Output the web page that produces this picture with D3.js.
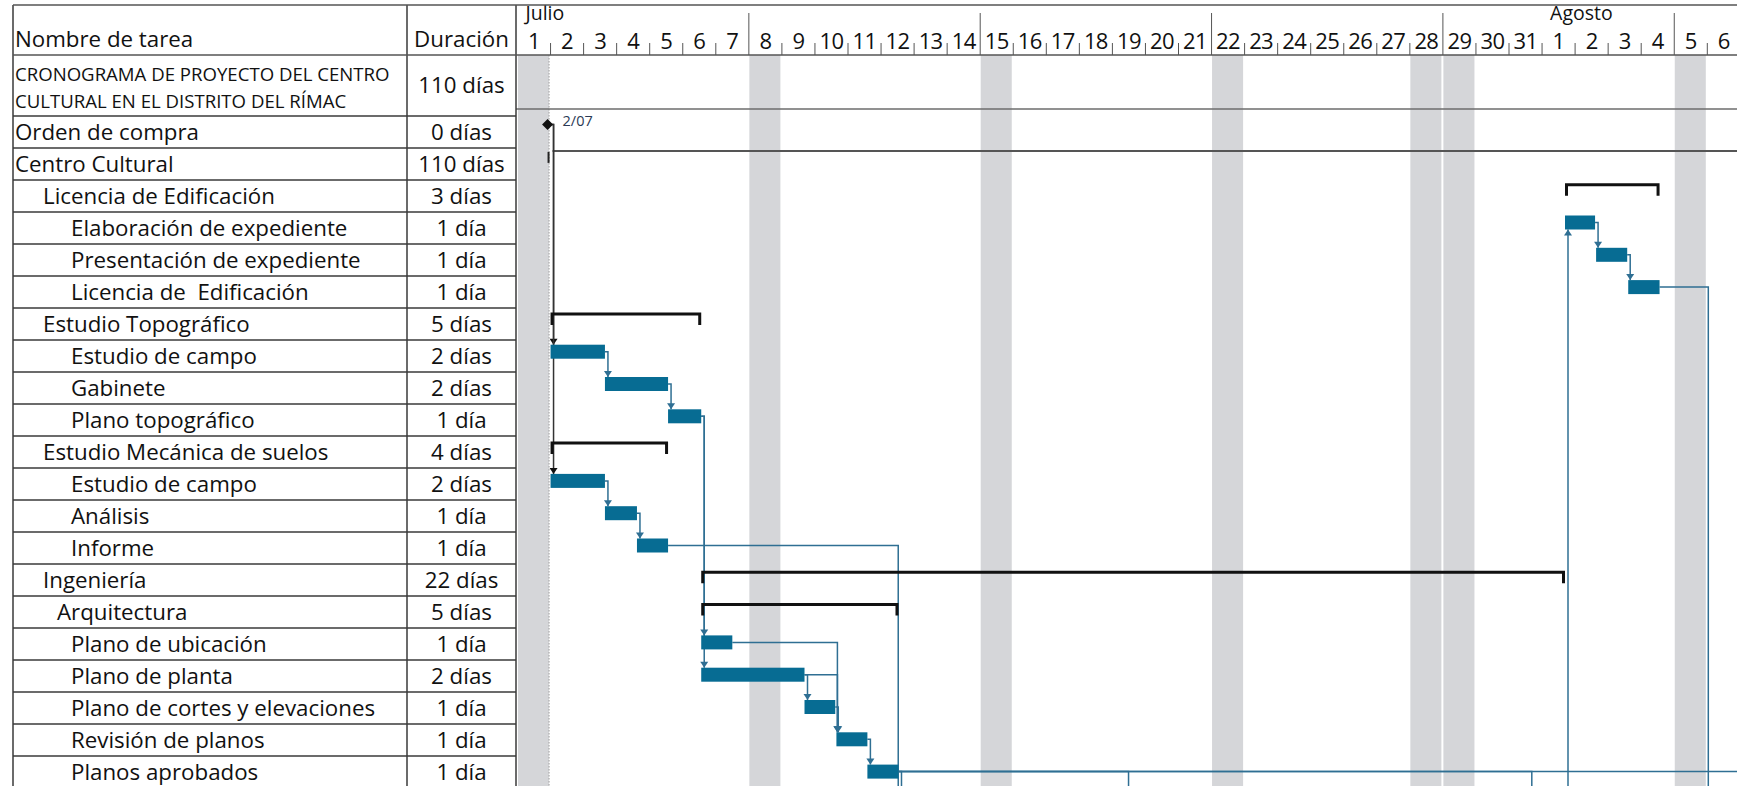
<!DOCTYPE html>
<html>
<head>
<meta charset="utf-8">
<title>Cronograma Centro Cultural</title>
<script src="https://cdn.jsdelivr.net/npm/d3@7"></script>
<style>
body { margin: 0; background: #fff; }
svg { display: block; font-family: "Open Sans", sans-serif; }
text { white-space: pre; fill: #111; }
</style>
</head>
<body>
<svg id="chart"></svg>
<script>
var taskNames = [
  "CRONOGRAMA DE PROYECTO DEL CENTRO|CULTURAL EN EL DISTRITO DEL RÍMAC",
  "Orden de compra", "Centro Cultural", "Licencia de Edificación",
  "Elaboración de expediente", "Presentación de expediente", "Licencia de  Edificación",
  "Estudio Topográfico", "Estudio de campo", "Gabinete", "Plano topográfico",
  "Estudio Mecánica de suelos", "Estudio de campo", "Análisis", "Informe",
  "Ingeniería", "Arquitectura", "Plano de ubicación", "Plano de planta",
  "Plano de cortes y elevaciones", "Revisión de planos", "Planos aprobados"
];
var durations = ["110 días", "0 días", "110 días", "3 días", "1 día", "1 día", "1 día",
  "5 días", "2 días", "2 días", "1 día", "4 días", "2 días", "1 día", "1 día",
  "22 días", "5 días", "1 día", "2 días", "1 día", "1 día", "1 día"];
var levels = [0, 0, 0, 1, 2, 2, 2, 1, 2, 2, 2, 1, 2, 2, 2, 1, 1.5, 2, 2, 2, 2, 2];
var kinds = ["project", "milestone", "rollup", "summary", "task", "task", "task",
  "summary", "task", "task", "task", "summary", "task", "task", "task",
  "summary", "summary", "task", "task", "task", "task", "task"];
var starts = ["2018-07-01 00:00", "2018-07-02 00:00", "2018-07-02 00:00", "2018-08-01 16:40",
  "2018-08-01 16:40", "2018-08-02 15:15", "2018-08-03 14:35",
  "2018-07-02 00:00", "2018-07-02 00:00", "2018-07-03 15:30", "2018-07-05 13:20",
  "2018-07-02 00:00", "2018-07-02 00:00", "2018-07-03 15:30", "2018-07-04 14:45",
  "2018-07-06 13:25", "2018-07-06 13:25", "2018-07-06 13:25", "2018-07-06 13:25",
  "2018-07-09 16:25", "2018-07-10 15:35", "2018-07-11 14:05"];
var ends = ["2018-11-07 17:00", "2018-07-02 00:00", "2018-11-07 17:00", "2018-08-04 13:20",
  "2018-08-02 14:30", "2018-08-03 13:50", "2018-08-04 13:20",
  "2018-07-06 13:25", "2018-07-03 15:30", "2018-07-05 13:20", "2018-07-06 13:25",
  "2018-07-05 13:20", "2018-07-03 15:30", "2018-07-04 14:45", "2018-07-05 13:20",
  "2018-08-01 16:40", "2018-07-12 12:40", "2018-07-07 12:00", "2018-07-09 16:25",
  "2018-07-10 14:45", "2018-07-11 14:05", "2018-07-12 12:40"];

// finish-to-start links between visible rows
var linkFrom = [1, 1, 8, 9, 10, 10, 12, 13, 17, 18, 18, 19, 20, 4, 5];
var linkTo   = [8, 12, 9, 10, 17, 18, 13, 14, 20, 19, 20, 20, 21, 5, 6];
// links to successors below the visible rows (row, successor start)
var outFrom  = [14, 21, 21, 21, 21, 6];
var outStart = ["2018-07-12 11:45", "2018-07-12 12:40", "2018-07-19 11:00",
  "2018-07-31 15:50", "2018-08-09 00:00", "2018-08-06 00:00"];
// links from predecessors below the visible rows (predecessor end, row)
var inEnd = ["2018-08-01 16:40"];
var inTo  = [4];

var monthNames = ["Julio", "Agosto"];
var monthStarts = ["2018-07-01", "2018-08-01"];
var nonWorking = ["2018-07-01", "2018-07-08", "2018-07-15", "2018-07-22",
  "2018-07-28", "2018-07-29", "2018-08-05"];
var milestoneLabel = "2/07";

// ---- layout ----
var width = 1737, height = 786;
var tableLeft = 13, durLeft = 407, chartLeft = 516;
var headTop = 5, headBottom = 55;
var barH = 14;
var fs = 22.3;
var barColor = "#076c93", linkColor = "#2f6f93";

var parseT = d3.timeParse("%Y-%m-%d %H:%M");
var parseD = d3.timeParse("%Y-%m-%d");

var x = d3.scaleTime()
  .domain([parseD("2018-07-01"), parseD("2018-08-07")])
  .range([517.5, 517.5 + 37 * 33.05]);
var yBar = d3.scaleLinear().domain([0, 21]).range([86.3, 764.6]);
var yRow = d3.scaleLinear().domain([1, 21]).range([116, 756]);
var indent = d3.scaleLinear().domain([0, 2]).range([15, 71]);

var svg = d3.select("#chart").attr("width", width).attr("height", height);

svg.append("defs").append("clipPath").attr("id", "plot")
  .append("rect").attr("x", chartLeft).attr("y", headBottom)
  .attr("width", width - chartLeft).attr("height", height - headBottom);
svg.select("defs").append("clipPath").attr("id", "head")
  .append("rect").attr("x", chartLeft).attr("y", 0)
  .attr("width", width - chartLeft).attr("height", headBottom);

var plot = svg.append("g").attr("clip-path", "url(#plot)");

// non working days
plot.selectAll("rect.off")
  .data(nonWorking.map(parseD))
  .enter().append("rect").attr("class", "off")
  .attr("x", function (d) { return x(d) + 0.5; })
  .attr("width", function (d) { return x(d3.timeDay.offset(d, 1)) - x(d) - 2; })
  .attr("y", headBottom).attr("height", height - headBottom)
  .attr("fill", "#d5d6d9");

// project start (dotted)
plot.append("line")
  .attr("x1", x(parseT(starts[1])) - 1.5).attr("x2", x(parseT(starts[1])) - 1.5)
  .attr("y1", headBottom).attr("y2", height)
  .attr("stroke", "#a0a0a0").attr("stroke-dasharray", "1.5,1.5");

// project summary line
plot.append("line")
  .attr("x1", chartLeft).attr("x2", x(parseT(ends[0])))
  .attr("y1", 109).attr("y2", 109)
  .attr("stroke", "#6d6d6d").attr("stroke-width", 1.5);

// rolled up Centro Cultural
var r2x = x(parseT(starts[2]));
plot.append("line")
  .attr("x1", r2x + 2).attr("x2", x(parseT(ends[2])))
  .attr("y1", yBar(2)).attr("y2", yBar(2))
  .attr("stroke", "#555").attr("stroke-width", 2);
plot.append("line")
  .attr("x1", r2x - 2).attr("x2", r2x - 2)
  .attr("y1", yBar(2) + 1).attr("y2", yBar(2) + 12)
  .attr("stroke", "#222").attr("stroke-width", 2);

// ---- links ----
function midY(i) { return kinds[i] === "milestone" ? yBar(i) + 6 : yBar(i) + 7; }
function arrow(g, vx, y, up, color) {
  var s = up ? 1 : -1;
  g.append("path")
    .attr("d", "M" + (vx - 4) + "," + (y + 6 * s) + "L" + (vx + 4) + "," + (y + 6 * s) + "L" + vx + "," + y + "Z")
    .attr("fill", color);
}
var links = plot.append("g").attr("fill", "none");

linkFrom.forEach(function (f, k) {
  var t = linkTo[k];
  var x1 = x(parseT(ends[f]));
  var vx = Math.max(x1 + 3, x(parseT(starts[t])) + 1);
  var col = kinds[f] === "milestone" ? "#333" : linkColor;
  links.append("path")
    .attr("d", "M" + x1 + "," + midY(f) + "H" + vx + "V" + yBar(t))
    .attr("stroke", col).attr("stroke-width", 1.5).attr("fill", "none");
  arrow(links, vx, yBar(t), false, kinds[f] === "milestone" ? "#111" : linkColor);
});

outFrom.forEach(function (f, k) {
  var x1 = x(parseT(ends[f]));
  var vx = Math.max(x1 + 3, x(parseT(outStart[k])) + 1);
  links.append("path")
    .attr("d", "M" + x1 + "," + midY(f) + "H" + vx + "V" + (height + 20))
    .attr("stroke", linkColor).attr("stroke-width", 1.5).attr("fill", "none");
});

inTo.forEach(function (t, k) {
  var vx = Math.max(x(parseT(inEnd[k])) + 3, x(parseT(starts[t])) + 1);
  links.append("path")
    .attr("d", "M" + vx + "," + (height + 20) + "V" + (yBar(t) + barH))
    .attr("stroke", linkColor).attr("stroke-width", 1.5).attr("fill", "none");
  arrow(links, vx, yBar(t) + barH, true, linkColor);
});

// ---- bars ----
var idx = d3.range(taskNames.length);

plot.selectAll("rect.bar")
  .data(idx.filter(function (i) { return kinds[i] === "task"; }))
  .enter().append("rect").attr("class", "bar")
  .attr("x", function (i) { return x(parseT(starts[i])); })
  .attr("width", function (i) { return x(parseT(ends[i])) - x(parseT(starts[i])); })
  .attr("y", function (i) { return yBar(i); })
  .attr("height", barH)
  .attr("fill", barColor);

plot.selectAll("path.sum")
  .data(idx.filter(function (i) { return kinds[i] === "summary"; }))
  .enter().append("path").attr("class", "sum")
  .attr("d", function (i) {
    var a = x(parseT(starts[i])) + 1.5, b = x(parseT(ends[i])) - 1.5, y = yBar(i) + 1.5;
    return "M" + a + "," + (y + 11) + "V" + y + "H" + b + "V" + (y + 11);
  })
  .attr("fill", "none").attr("stroke", "#111").attr("stroke-width", 3);

// milestone
var mx = x(parseT(starts[1])) - 3, my = midY(1);
plot.append("path")
  .attr("d", "M" + (mx - 5.5) + "," + my + "L" + mx + "," + (my - 5.5) + "L" + (mx + 5.5) + "," + my + "L" + mx + "," + (my + 5.5) + "Z")
  .attr("fill", "#111");
plot.append("text")
  .attr("x", mx + 15).attr("y", my + 1)
  .attr("font-size", 14.5).style("fill", "#2b3a55")
  .text(milestoneLabel);

// ---- timescale header ----
var head = svg.append("g").attr("clip-path", "url(#head)");
var days = d3.timeDay.range(parseD("2018-07-01"), parseD("2018-08-07"));

head.selectAll("line.tick")
  .data(days.slice(1))
  .enter().append("line").attr("class", "tick")
  .attr("x1", function (d) { return x(d); }).attr("x2", function (d) { return x(d); })
  .attr("y1", function (d) { return d.getDay() === 0 ? 13 : 43; })
  .attr("y2", headBottom)
  .attr("stroke", "#555").attr("stroke-width", 1);

head.selectAll("text.day")
  .data(days)
  .enter().append("text").attr("class", "day")
  .attr("x", function (d) { return (x(d) + x(d3.timeDay.offset(d, 1))) / 2; })
  .attr("y", 49)
  .attr("text-anchor", "middle")
  .attr("font-size", 22)
  .attr("letter-spacing", -0.6)
  .text(function (d) { return d.getDate(); });

head.selectAll("text.month")
  .data(monthNames)
  .enter().append("text").attr("class", "month")
  .attr("x", function (m, k) { return x(parseD(monthStarts[k])) + 8; })
  .attr("y", 20)
  .attr("font-size", 19.5)
  .text(function (m) { return m; });

// ---- task table ----
var table = svg.append("g");

table.selectAll("line.row")
  .data(d3.range(1, 22))
  .enter().append("line").attr("class", "row")
  .attr("x1", tableLeft).attr("x2", chartLeft)
  .attr("y1", function (i) { return yRow(i); }).attr("y2", function (i) { return yRow(i); })
  .attr("stroke", "#3a3a3a").attr("stroke-width", 1.5);

[tableLeft, durLeft, chartLeft].forEach(function (v) {
  table.append("line").attr("x1", v).attr("x2", v)
    .attr("y1", headTop).attr("y2", height)
    .attr("stroke", "#3a3a3a").attr("stroke-width", 1.5);
});
[headTop, headBottom].forEach(function (v) {
  table.append("line").attr("x1", tableLeft).attr("x2", width)
    .attr("y1", v).attr("y2", v)
    .attr("stroke", "#555").attr("stroke-width", 1.5);
});

table.append("text").attr("x", 15).attr("y", 47).attr("font-size", fs).text("Nombre de tarea");
table.append("text").attr("x", (durLeft + chartLeft) / 2).attr("y", 47)
  .attr("text-anchor", "middle").attr("font-size", fs).text("Duración");

// first (project) row is two lines tall
taskNames[0].split("|").forEach(function (line, k) {
  table.append("text").attr("x", 15).attr("y", 81 + k * 27)
    .attr("font-size", 18.6).text(line);
});
table.append("text").attr("x", (durLeft + chartLeft) / 2).attr("y", 93)
  .attr("text-anchor", "middle").attr("font-size", fs).text(durations[0]);

table.selectAll("text.name")
  .data(idx.slice(1))
  .enter().append("text").attr("class", "name")
  .attr("x", function (i) { return indent(levels[i]); })
  .attr("y", function (i) { return yRow(i) + 24; })
  .attr("font-size", fs)
  .text(function (i) { return taskNames[i]; });

table.selectAll("text.dur")
  .data(idx.slice(1))
  .enter().append("text").attr("class", "dur")
  .attr("x", (durLeft + chartLeft) / 2)
  .attr("y", function (i) { return yRow(i) + 24; })
  .attr("text-anchor", "middle")
  .attr("font-size", fs)
  .text(function (i) { return durations[i]; });
</script>
</body>
</html>
